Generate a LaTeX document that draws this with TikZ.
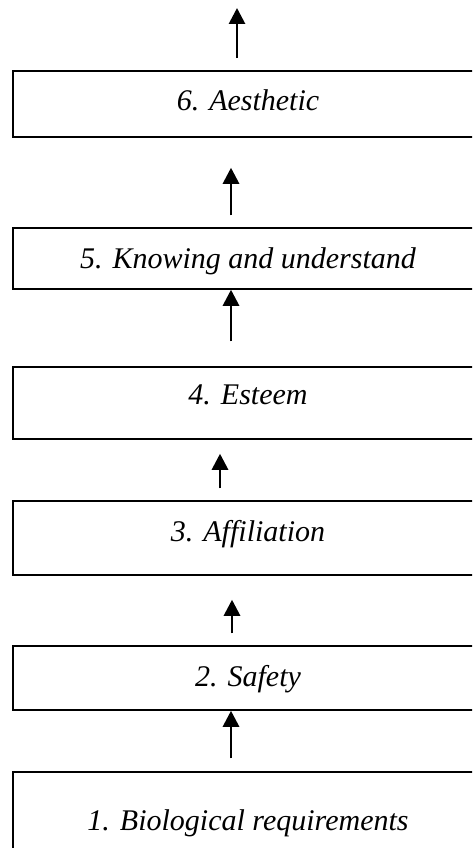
\documentclass[tikz,border=0pt]{standalone}
\usepackage{fontspec}
\setmainfont{Liberation Serif}
\usetikzlibrary{arrows.meta, positioning}
\tikzset{
    stagebox/.style={rectangle, draw=black, line width=1.5pt, minimum width=470pt,
                     inner sep=0pt, text height=21pt, text depth=1pt,
                     font=\fontsize{30}{36}\selectfont\itshape},
    uparrow/.style={-{Triangle[width=16pt,length=16pt]}, line width=2.8pt},
}

\begin{document}
\begin{tikzpicture}[x=1pt, y=-1pt]
    \clip (0,0) rectangle (472,848);
    % the six levels, bottom to top
    \node[stagebox, minimum height=96pt] (bio) at (248,820) {1. Biological requirements};
    \node[stagebox, minimum height=64pt, text depth=4pt] (safe) at (248,678) {2. Safety};
    \node[stagebox, minimum height=74pt, text depth=15pt] (affil) at (248,538) {3. Affiliation};
    \node[stagebox, minimum height=72pt, text depth=18pt] (esteem) at (248,403) {4. Esteem};
    \node[stagebox, minimum height=61pt] (know) at (248,258.5) {5. Knowing and understand};
    \node[stagebox, minimum height=66pt, text depth=7pt] (aes) at (248,104) {6. Aesthetic};
    \coordinate (peak) at (237,8);
    % arrows between the levels
    \draw[uparrow, shorten <=13pt] ([xshift=-17pt]bio.north) -- ([xshift=-17pt]safe.south);
    \draw[uparrow, shorten <=12pt, shorten >=24pt] ([xshift=-16pt]safe.north) -- ([xshift=-16pt]affil.south);
    \draw[uparrow, shorten <=12pt, shorten >=14pt] ([xshift=-28pt]affil.north) -- ([xshift=-28pt]esteem.south);
    \draw[uparrow, shorten <=25pt] ([xshift=-17pt]esteem.north) -- ([xshift=-17pt]know.south);
    \draw[uparrow, shorten <=12pt, shorten >=30pt] ([xshift=-17pt]know.north) -- ([xshift=-17pt]aes.south);
    \draw[uparrow, shorten <=12pt] ([xshift=-11pt]aes.north) -- (peak);
\end{tikzpicture}
\end{document}
